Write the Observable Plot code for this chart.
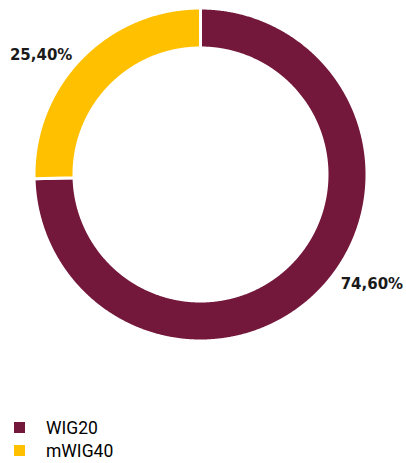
<!DOCTYPE html>
<html><head><meta charset="utf-8">
<script src="https://cdn.jsdelivr.net/npm/d3@7"></script>
<script src="https://cdn.jsdelivr.net/npm/@observablehq/plot@0.6"></script>
<style>
body{margin:0;background:#fff;overflow:hidden;}
#legend{position:absolute;left:14px;top:416px;font-family:Roboto,"DejaVu Sans",sans-serif;font-size:17.5px;line-height:18px;color:#000;}
.row{display:flex;align-items:center;height:23px;}
.sw{width:11px;height:11px;margin-right:21px;flex:none;}
</style></head><body><div id="chart"></div><div id="legend"></div>
<script>
const categories = ["WIG20", "mWIG40"];
const shares = [74.60, 25.40];
const labels = ["74,60%", "25,40%"];
const colors = ["#74183B", "#FFC000"];

const outerR = 166.5, innerR = 126.5;
const arcs = d3.pie().sort(null).value(d => d)(shares);
const ring = [];
const labelPts = [];
arcs.forEach((p, i) => {
  const n = Math.max(2, Math.ceil((p.endAngle - p.startAngle) / 0.005));
  for (let k = 0; k <= n; k++) {
    const a = p.startAngle + (p.endAngle - p.startAngle) * k / n;
    ring.push({cat: categories[i], x: Math.sin(a) * outerR, y: Math.cos(a) * outerR});
  }
  for (let k = n; k >= 0; k--) {
    const a = p.startAngle + (p.endAngle - p.startAngle) * k / n;
    ring.push({cat: categories[i], x: Math.sin(a) * innerR, y: Math.cos(a) * innerR});
  }
  const m = (p.startAngle + p.endAngle) / 2;
  labelPts.push({cat: categories[i], label: labels[i], x: Math.sin(m) * 165, y: Math.cos(m) * 165});
});

const textStyle = {fontFamily: "DejaVu Sans", fontWeight: "bold", fontSize: 15, fill: "#1a1a1a"};
const chart = Plot.plot({
  width: 406, height: 410,
  marginLeft: 35, marginRight: 41, marginTop: 9, marginBottom: 71,
  x: {domain: [-165, 165], axis: null},
  y: {domain: [-165, 165], axis: null},
  color: {domain: categories, range: colors},
  marks: [
    Plot.line(ring, {x: "x", y: "y", z: "cat", fill: "cat", stroke: "white", strokeWidth: 3, curve: "linear-closed"}),
    Plot.text(labelPts.filter(d => d.cat === "WIG20"), {x: "x", y: "y", text: "label", textAnchor: "start", dx: 22, dy: -6, ...textStyle}),
    Plot.text(labelPts.filter(d => d.cat === "mWIG40"), {x: "x", y: "y", text: "label", textAnchor: "end", dx: -10, dy: -4, ...textStyle})
  ]
});
document.getElementById("chart").appendChild(chart);

const legend = document.getElementById("legend");
categories.forEach((c, i) => {
  const row = document.createElement("div");
  row.className = "row";
  const sw = document.createElement("span");
  sw.className = "sw";
  sw.style.background = colors[i];
  const t = document.createElement("span");
  t.textContent = c;
  row.appendChild(sw);
  row.appendChild(t);
  legend.appendChild(row);
});
</script>
</body></html>
